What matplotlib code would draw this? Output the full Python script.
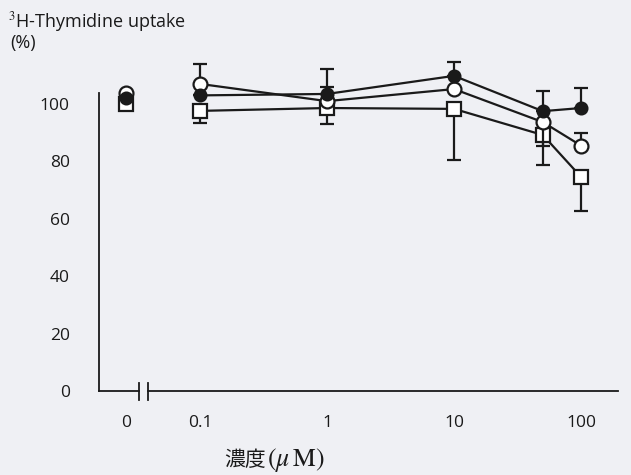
import matplotlib
matplotlib.use("Agg")
import matplotlib.pyplot as plt
import numpy as np

plt.rcParams["mathtext.fontset"] = "stix"

# ---- data ----
x_zero = [0]
x_conc = [0.1, 1, 10, 50, 100]

filled_zero = [102.0]
filled_vals = [103.0, 103.5, 109.8, 97.5, 98.6]
filled_err_up = [0, 8.7, 5.0, 7.0, 7.0]
filled_err_lo = [0, 0, 0, 0, 0]

open_zero = [103.8]
open_vals = [107.0, 101.0, 105.2, 93.7, 85.5]
open_err_up = [7.0, 5.0, 0, 0, 4.5]
open_err_lo = [0, 0, 0, 8.3, 0]

square_zero = [100.0]
square_vals = [97.6, 98.6, 98.3, 89.2, 74.6]
square_err_up = [0, 0, 0, 0, 0]
square_err_lo = [4.2, 5.6, 17.8, 10.5, 12.0]

y_ticks = [0, 20, 40, 60, 80, 100]
x_ticks = [0.1, 1, 10, 100]
x_tick_labels = ["0.1", "1", "10", "100"]

BG = "#eff0f4"
INK = "#1a1a1a"
W, H = 631, 475
fig = plt.figure(figsize=(W / 100, H / 100), dpi=100, facecolor=BG)

y_bot = (H - 391) / H
y_h = 104 * 2.87 / H

axL = fig.add_axes([99 / W, y_bot, 40 / W, y_h])
axR = fig.add_axes([148 / W, y_bot, 470 / W, y_h])

lw = 1.6
ms_open = 10
ms_fill = 8.5
ms_sq = 9.5
TFS = 12.5

def draw(ax, xs, vals, lo, up, marker, face, ms, z, line=True):
    ax.errorbar(xs, vals, yerr=[lo, up], fmt="none", ecolor=INK,
                elinewidth=lw, capsize=5, capthick=lw, zorder=z - 0.5,
                clip_on=False)
    ax.plot(xs, vals, color=INK, lw=lw if line else 0, marker=marker,
            ms=ms, mfc=face, mec=INK, mew=lw, zorder=z, clip_on=False)

for ax in (axL, axR):
    ax.set_facecolor("none")
    ax.set_ylim(0, 104)
    for s in ("top", "right"):
        ax.spines[s].set_visible(False)
    ax.spines["bottom"].set_linewidth(1.3)
    ax.spines["bottom"].set_color(INK)
    ax.tick_params(length=0, labelsize=TFS, colors=INK)

# left (zero) axes
axL.set_xlim(-0.675, 0.325)
axL.spines["left"].set_linewidth(1.3)
axL.spines["left"].set_color(INK)
axL.set_yticks(y_ticks)
axL.set_yticklabels([str(v) for v in y_ticks], fontfamily="Open Sans")
axL.tick_params(axis="y", pad=21)
axL.set_xticks(x_zero)
axL.set_xticklabels(["0"], fontfamily="Open Sans")
axL.tick_params(axis="x", pad=17)
draw(axL, x_zero, square_zero, [0], [0], "s", "white", ms_sq, 3, line=False)
draw(axL, x_zero, open_zero, [0], [0], "o", "white", ms_open, 4, line=False)
draw(axL, x_zero, filled_zero, [0], [0], "o", INK, ms_fill, 5, line=False)

# right (log) axes
axR.set_xscale("log")
axR.set_xlim(0.039, 195.4)
axR.spines["left"].set_visible(False)
axR.set_yticks([])
axR.set_xticks(x_ticks)
axR.set_xticklabels(x_tick_labels, fontfamily="Open Sans")
axR.minorticks_off()
axR.tick_params(axis="x", pad=17)
draw(axR, x_conc, square_vals, square_err_lo, square_err_up, "s", "white", ms_sq, 3)
draw(axR, x_conc, open_vals, open_err_lo, open_err_up, "o", "white", ms_open, 4)
draw(axR, x_conc, filled_vals, filled_err_lo, filled_err_up, "o", INK, ms_fill, 5)

# axis break marks
for px in (139, 148):
    fig.add_artist(plt.Line2D([px / W, px / W], [(H - 400) / H, (H - 383) / H],
                              color=INK, lw=1.3))

# labels
fig.text(8 / W, 1 - 22 / H, r"$^{3}$H-Thymidine uptake", fontsize=13,
         fontfamily="Open Sans", color=INK, va="center", ha="left")
fig.text(10 / W, 1 - 43 / H, "(%)", fontsize=13, fontfamily="Open Sans",
         color=INK, va="center", ha="left")
fig.text(266 / W, 1 - 466 / H, "濃度", fontsize=15,
         fontfamily=["Noto Sans CJK JP", "DejaVu Sans"], color=INK,
         va="baseline", ha="right")
fig.text(267 / W, 1 - 466 / H, r"$(\mu\,\mathrm{M})$", fontsize=18.5,
         color=INK, va="baseline", ha="left")

fig.savefig("out.png", dpi=100, facecolor=BG)
